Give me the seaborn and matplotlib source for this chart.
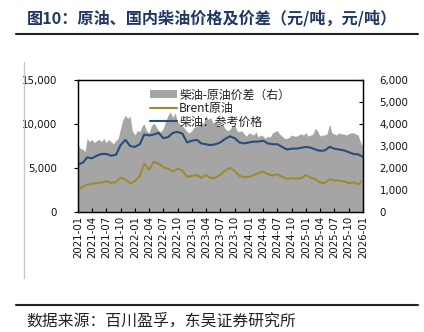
import numpy as np
import pandas as pd
import matplotlib
matplotlib.use("Agg")
import matplotlib.pyplot as plt
import matplotlib.dates as mdates
from matplotlib.ticker import FuncFormatter, FixedLocator
from matplotlib.patches import Patch
from matplotlib.lines import Line2D
import seaborn as sns

# ---------------- data ----------------
title = "图10：原油、国内柴油价格及价差（元/吨，元/吨）"
source = "数据来源：百川盈孚，东吴证券研究所"
label_spread = "柴油-原油价差（右）"
label_brent = "Brent原油"
label_diesel = "柴油：参考价格"

# monthly line series (2021-01 .. 2026-01), yuan/ton, left axis
diesel = [5400, 5600, 6200, 6100, 6400, 6600, 6600, 6400, 6500, 7600,
          8200, 7500, 7400, 7700, 8800, 8700, 8800, 9000, 8400, 8500,
          9000, 9100, 8900, 7900, 8100, 8200, 7800, 7700, 7600, 7700,
          7900, 8300, 8600, 8400, 7900, 7800, 7900, 8000, 8000, 8100,
          7800, 7700, 7700, 7400, 7100, 7200, 7200, 7300, 7400, 7300,
          7100, 6950, 7000, 7400, 7200, 7100, 7000, 6800, 6600, 6550,
          6250]
brent = [2500, 2900, 3100, 3200, 3300, 3350, 3500, 3300, 3400, 3900,
         3700, 3250, 3500, 4100, 5500, 4800, 5700, 5500, 5100, 4900,
         4600, 4900, 4700, 4000, 4100, 4200, 3900, 4200, 3850, 3900,
         4200, 4700, 5000, 4700, 4100, 3950, 4000, 4200, 4400, 4600,
         4300, 4150, 4300, 4000, 3750, 3850, 3800, 3850, 4200, 3900,
         3750, 3350, 3300, 3700, 3600, 3550, 3500, 3300, 3350, 3150,
         3600]
# semi-monthly spread (right axis)
spread = [3050, 2900, 2850, 2750, 3350, 3200, 3300, 3150, 3250, 3300,
          3200, 3350, 3150, 3300, 3200, 3100, 3250, 3350, 3800, 4200,
          4400, 4250, 4350, 3700, 3500, 3700, 3650, 3900, 4000, 3700,
          3600, 3900, 4050, 3900, 3700, 3650, 3800, 4100, 4400, 4550,
          4300, 4500, 4100, 4000, 3900, 3800, 3650, 3600, 3700, 3850,
          3900, 3950, 4100, 4000, 4400, 4200, 4300, 4050, 4100, 3950,
          3900, 4000, 3800, 3700, 3750, 3900, 3950, 3700, 3650, 3700,
          3550, 3450, 3600, 3550, 3500, 3650, 3400, 3500, 3450, 3350,
          3450, 3400, 3600, 3650, 3700, 3550, 3450, 3350, 3350, 3400,
          3500, 3450, 3450, 3500, 3550, 3500, 3600, 3450, 3500, 3550,
          3800, 3700, 3450, 3500, 3500, 3550, 4000, 3600, 3550, 3500,
          3600, 3550, 3550, 3500, 3550, 3600, 3600, 3550, 3500, 3200,
          2950]

left_ticks = [0, 5000, 10000, 15000]
right_ticks = [0, 1000, 2000, 3000, 4000, 5000, 6000]

months = pd.date_range("2021-01-01", "2026-01-01", freq="MS")
half_months = pd.date_range("2021-01-01", "2026-01-01", freq="SMS")
df_lines = pd.DataFrame({"date": months, "diesel": diesel, "brent": brent})
df_spread = pd.DataFrame({"date": half_months, "spread": spread})

# ---------------- style ----------------
sns.set_theme(style="white")
plt.rcParams["font.family"] = ["Noto Sans CJK SC", "DejaVu Sans"]
plt.rcParams["axes.unicode_minus"] = False

c_gray = "#A5A5A5"
c_gold = "#9E8B30"
c_blue = "#254E7D"

fig = plt.figure(figsize=(4.24, 3.32), dpi=100)
ax = fig.add_axes([78/424, 1-212/332, (363-78)/424, (212-80)/332])
ax2 = ax.twinx()

ax2.fill_between(df_spread["date"], 0, df_spread["spread"], color=c_gray, lw=0)
sns.lineplot(data=df_lines, x="date", y="brent", ax=ax, color=c_gold, lw=1.5, legend=False)
sns.lineplot(data=df_lines, x="date", y="diesel", ax=ax, color=c_blue, lw=1.5, legend=False)

ax.set_zorder(ax2.get_zorder() + 1)
ax.patch.set_visible(False)

ax.set_xlim(months[0], months[-1])
ax.set_ylim(0, 15000)
ax2.set_ylim(0, 6000)
ax.set_xlabel("")
ax.set_ylabel("")
ax2.set_ylabel("")

ax.yaxis.set_major_locator(FixedLocator(left_ticks))
ax2.yaxis.set_major_locator(FixedLocator(right_ticks))
fmt = FuncFormatter(lambda v, p: f"{int(v):,}")
ax.yaxis.set_major_formatter(fmt)
ax2.yaxis.set_major_formatter(fmt)

ax.xaxis.set_major_locator(mdates.MonthLocator(bymonth=[1, 4, 7, 10]))
ax.xaxis.set_major_formatter(mdates.DateFormatter("%Y-%m"))

for a in (ax, ax2):
    for s in a.spines.values():
        s.set_visible(True)
        s.set_color("black")
        s.set_linewidth(0.9)

ax.tick_params(axis="x", direction="in", length=3, width=0.8, color="black",
               labelsize=7.4, rotation=90, pad=3, bottom=True)
ax.tick_params(axis="y", direction="out", length=3, width=0.8, color="black",
               labelsize=7.4, left=True, pad=12)
ax2.tick_params(axis="y", direction="in", length=3, width=0.8, color="black",
                labelsize=7.4, right=True, pad=12)
for lab in ax.get_xticklabels() + ax.get_yticklabels() + ax2.get_yticklabels():
    lab.set_fontfamily("DejaVu Sans")
    lab.set_color("#111111")

handles = [Patch(facecolor=c_gray, edgecolor="none"),
           Line2D([0], [0], color=c_gold, lw=1.5),
           Line2D([0], [0], color=c_blue, lw=1.5)]
leg = ax.legend(handles, [label_spread, label_brent, label_diesel],
                loc="upper left", bbox_to_anchor=(0.225, 1.0), frameon=False,
                fontsize=8.6, handlelength=2.2, handletextpad=0.2,
                labelspacing=0.05, borderaxespad=0.3)
for t in leg.get_texts():
    t.set_color("#222222")

# decorations
fig.text(27/424, 1-18/332, title, fontsize=11.6, fontweight="bold",
         color="#1F3864", va="center", ha="left")
fig.add_artist(Line2D([16/424, 418/424], [1-34/332, 1-34/332],
                      color="#222222", lw=1.5, transform=fig.transFigure))
fig.add_artist(Line2D([24/424, 24/424], [1-62/332, 1-278/332],
                      color="#C8C8C8", lw=1.0, transform=fig.transFigure))
fig.add_artist(Line2D([16/424, 418/424], [1-305/332, 1-305/332],
                      color="#222222", lw=1.5, transform=fig.transFigure))
fig.text(26/424, 1-321/332, source, fontsize=11.4, color="#222222",
         va="center", ha="left")

fig.savefig("out.png", dpi=100)
